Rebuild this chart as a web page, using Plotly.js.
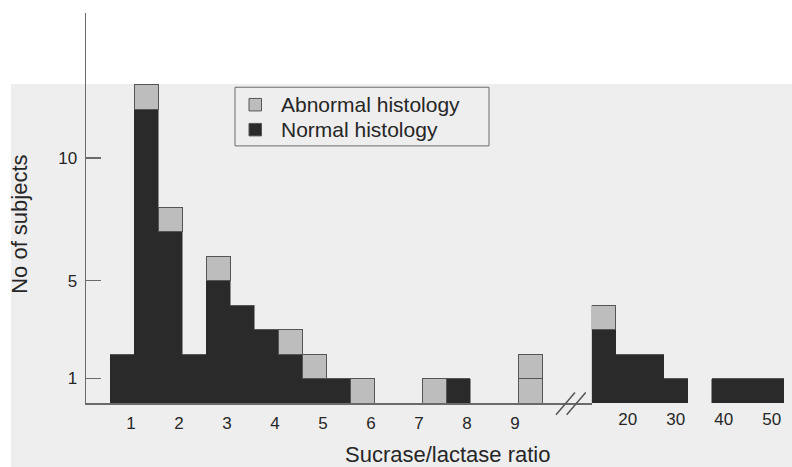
<!DOCTYPE html>
<html>
<head>
<meta charset="utf-8">
<script src="https://cdn.plot.ly/plotly-3.0.1.min.js"></script>
<style>
  html, body { margin: 0; padding: 0; background: #ffffff; }
  #chart { width: 792px; height: 467px; }
</style>
</head>
<body>
<div id="chart"></div>
<script>
// ---- data ----
// lower part of the broken axis: bins of width 0.5, given by their lower edge
const lowerBinStart   = [0.5, 1.0, 1.5, 2.0, 2.5, 3.0, 3.5, 4.0, 4.5, 5.0, 5.5, 7.0, 7.5, 9.0];
const lowerNormal     = [2,   12,  7,   2,   5,   4,   3,   2,   1,   1,   0,   0,   1,   0];
const lowerAbnormal   = [0,   1,   1,   0,   1,   0,   0,   1,   1,   0,   1,   1,   0,   2];
// upper part of the broken axis: bins of width 5, given by their centre
const upperBinCentre  = [15, 20, 25, 30, 40, 45, 50];
const upperNormal     = [3,  2,  2,  1,  1,  1,  1];
const upperAbnormal   = [1,  0,  0,  0,  0,  0,  0];

const seriesNames  = ['Normal histology', 'Abnormal histology'];
const lowerTicks   = [1, 2, 3, 4, 5, 6, 7, 8, 9];
const upperTicks   = [20, 30, 40, 50];
const yTicks       = [1, 5, 10];
const xTitle = 'Sucrase/lactase ratio';
const yTitle = 'No of subjects';

// ---- styles ----
const FONT = 'Liberation Sans, Arial, Helvetica, sans-serif';
const TXT = '#262626';
const DARK = '#2a2a2a';
const LIGHT = '#bdbdbd';
const EDGE = '#555555';
const AXIS = '#6a6a6a';
const BG = '#eeeeee';

const lowerWidth = 0.5, upperWidth = 5;

const traces = [];
// normal histology: solid silhouette
traces.push({ type: 'bar', name: seriesNames[0], showlegend: false, x: lowerBinStart, y: lowerNormal,
  offset: 0, width: lowerWidth, xaxis: 'x', yaxis: 'y',
  marker: { color: DARK, line: { color: DARK, width: 0.5 } } });
traces.push({ type: 'bar', name: seriesNames[0], showlegend: false, x: upperBinCentre, y: upperNormal,
  width: upperWidth, xaxis: 'x2', yaxis: 'y',
  marker: { color: DARK, line: { color: DARK, width: 0.5 } } });
// abnormal histology: drawn as outlined unit cells stacked on top
const maxAb = Math.max(...lowerAbnormal, ...upperAbnormal);
for (let k = 1; k <= maxAb; k++) {
  traces.push({ type: 'bar', name: seriesNames[1], showlegend: false, x: lowerBinStart,
    y: lowerAbnormal.map(v => (v >= k ? 1 : 0)),
    offset: 0, width: lowerWidth, xaxis: 'x', yaxis: 'y',
    marker: { color: LIGHT, line: { color: EDGE, width: 1 } } });
  traces.push({ type: 'bar', name: seriesNames[1], showlegend: false, x: upperBinCentre,
    y: upperAbnormal.map(v => (v >= k ? 1 : 0)),
    width: upperWidth, xaxis: 'x2', yaxis: 'y',
    marker: { color: LIGHT, line: { color: EDGE, width: 1 } } });
}

// plot area geometry (px) used for paper-referenced decorations
const L = 86, R = 792, T = 13, B = 403.3;
const W = R - L, H = B - T;
const px = v => (v - L) / W;
const py = v => (B - v) / H;

const breakY0 = py(415), breakY1 = py(392.7);

// hand-built legend (entries: abnormal first, then normal)
const legendEntries = [
  { name: seriesNames[1], color: LIGHT },
  { name: seriesNames[0], color: DARK }
];
const legBox = { x0: 235, x1: 489, y0: 87.3, y1: 146 };
const legRowY = [104.5, 129.5];
const legendShapes = [
  { type: 'rect', xref: 'paper', yref: 'paper',
    x0: px(legBox.x0), x1: px(legBox.x1), y0: py(legBox.y1), y1: py(legBox.y0),
    line: { color: '#6a6a6a', width: 1 }, fillcolor: 'rgba(0,0,0,0)' }
];
const legendAnn = [];
legendEntries.forEach((e, i) => {
  legendShapes.push({ type: 'rect', xref: 'paper', yref: 'paper',
    x0: px(249), x1: px(261.5), y0: py(legRowY[i] + 6.5), y1: py(legRowY[i] - 6),
    fillcolor: e.color, line: { color: EDGE, width: 1 } });
  legendAnn.push({ text: e.name, xref: 'paper', yref: 'paper', x: px(279), y: py(legRowY[i]),
    xanchor: 'left', yanchor: 'middle', showarrow: false,
    font: { family: FONT, size: 21, color: TXT } });
});

const layout = {
  width: 792, height: 467,
  margin: { l: L, r: 0, t: T, b: 467 - B },
  paper_bgcolor: '#ffffff',
  plot_bgcolor: 'rgba(0,0,0,0)',
  barmode: 'stack',
  font: { family: FONT, color: TXT, size: 17 },
  showlegend: false,
  xaxis: {
    domain: [0, px(591.7)],
    range: [0, (591.7 - L) / 48],
    tickvals: lowerTicks, ticktext: lowerTicks.map(String),
    ticks: '', showgrid: false, zeroline: false,
    showline: true, linecolor: AXIS, linewidth: 1.5,
    ticklabelshift: -3, ticklabelstandoff: 4,
    tickfont: { family: FONT, size: 17, color: TXT },
    anchor: 'y', fixedrange: true
  },
  xaxis2: {
    domain: [px(591.7), 1],
    range: [12.5, 12.5 + (R - 591.7) / 4.8],
    tickvals: upperTicks, ticktext: upperTicks.map(String),
    ticks: '', showgrid: false, zeroline: false, showline: false,
    ticklabelstandoff: 4,
    tickfont: { family: FONT, size: 17, color: TXT },
    anchor: 'y', fixedrange: true
  },
  yaxis: {
    range: [0, H / 24.5],
    tickvals: yTicks, ticktext: yTicks.map(String),
    ticks: 'inside', ticklen: 15, tickwidth: 1.5, tickcolor: AXIS,
    showgrid: false, zeroline: false,
    showline: true, linecolor: AXIS, linewidth: 1.5,
    ticklabelstandoff: 4,
    tickfont: { family: FONT, size: 17, color: TXT },
    fixedrange: true
  },
  shapes: [
    { type: 'rect', xref: 'paper', yref: 'paper', layer: 'below',
      x0: px(11), x1: px(792) + 0.01, y0: py(467) - 0.01, y1: py(84),
      fillcolor: BG, line: { width: 0 } },
    { type: 'line', xref: 'paper', yref: 'paper', x0: px(556), y0: breakY0, x1: px(575), y1: breakY1,
      line: { color: EDGE, width: 1.5 } },
    { type: 'line', xref: 'paper', yref: 'paper', x0: px(566.7), y0: breakY0, x1: px(585.7), y1: breakY1,
      line: { color: EDGE, width: 1.5 } }
  ].concat(legendShapes),
  annotations: [
    { text: xTitle, xref: 'paper', yref: 'paper', x: px(448), y: py(455),
      xanchor: 'center', yanchor: 'middle', showarrow: false,
      font: { family: FONT, size: 22, color: TXT } },
    { text: yTitle, xref: 'paper', yref: 'paper', x: px(20), y: py(225),
      xanchor: 'center', yanchor: 'middle', showarrow: false, textangle: -90,
      font: { family: FONT, size: 22, color: TXT } }
  ].concat(legendAnn)
};

Plotly.newPlot('chart', traces, layout, { displayModeBar: false, staticPlot: true });
</script>
</body>
</html>
